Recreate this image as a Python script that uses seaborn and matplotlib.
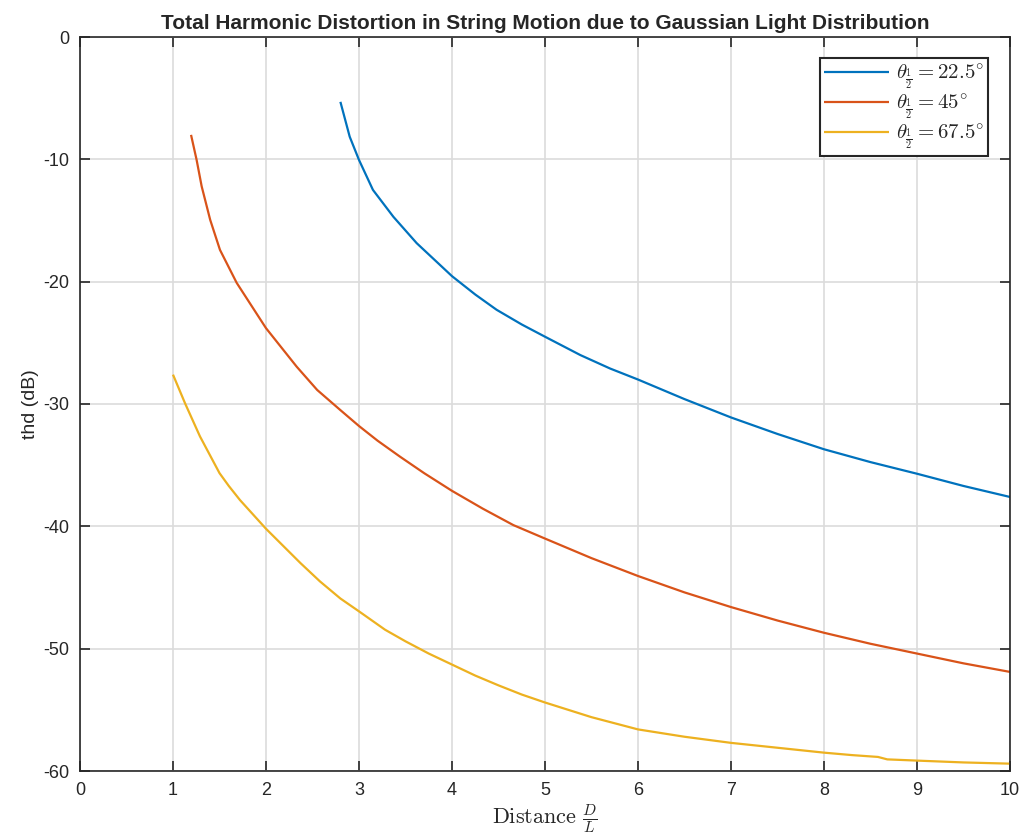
import numpy as np
import pandas as pd
import matplotlib
matplotlib.use("Agg")
import matplotlib.pyplot as plt
import seaborn as sns

# ---- data ----
x_22 = [2.8, 2.9, 3.0, 3.15, 3.37, 3.62, 4.0, 4.25, 4.48, 4.75, 5.0, 5.38, 5.7, 6.0, 6.5, 7.0, 7.5, 8.0, 8.5, 9.0, 9.5, 10.0]
y_22 = [-5.3, -8.15, -10.05, -12.5, -14.7, -16.85, -19.55, -21.05, -22.3, -23.5, -24.5, -26.0, -27.1, -28.0, -29.6, -31.1, -32.45, -33.7, -34.75, -35.7, -36.7, -37.6]

x_45 = [1.194, 1.254, 1.308, 1.4, 1.505, 1.685, 2.0, 2.33, 2.55, 2.8, 3.0, 3.2, 3.44, 3.7, 4.0, 4.33, 4.66, 5.0, 5.5, 6.0, 6.5, 7.0, 7.5, 8.0, 8.5, 9.0, 9.5, 10.0]
y_45 = [-8.0, -10.05, -12.2, -14.95, -17.4, -20.1, -23.8, -26.95, -28.85, -30.5, -31.8, -33.0, -34.3, -35.65, -37.1, -38.55, -39.9, -41.0, -42.6, -44.06, -45.4, -46.6, -47.7, -48.7, -49.6, -50.4, -51.2, -51.9]

x_67 = [1.0, 1.13, 1.29, 1.5, 1.6, 1.72, 2.0, 2.37, 2.58, 2.8, 3.0, 3.28, 3.5, 3.75, 4.0, 4.25, 4.5, 4.75, 5.0, 5.5, 6.0, 6.5, 7.0, 7.5, 8.0, 8.3, 8.58, 8.68, 9.0, 9.5, 10.0]
y_67 = [-27.6, -29.95, -32.65, -35.65, -36.7, -37.85, -40.2, -43.0, -44.5, -45.9, -46.95, -48.45, -49.4, -50.4, -51.3, -52.2, -53.0, -53.75, -54.4, -55.6, -56.6, -57.2, -57.7, -58.1, -58.5, -58.7, -58.85, -59.05, -59.15, -59.3, -59.4]

labels = [r"$\theta_{\frac{1}{2}} = 22.5^{\circ}$",
          r"$\theta_{\frac{1}{2}} = 45^{\circ}$",
          r"$\theta_{\frac{1}{2}} = 67.5^{\circ}$"]
colors = ["#0072BD", "#D95319", "#EDB120"]

df = pd.concat([
    pd.DataFrame({"x": x_22, "y": y_22, "series": labels[0]}),
    pd.DataFrame({"x": x_45, "y": y_45, "series": labels[1]}),
    pd.DataFrame({"x": x_67, "y": y_67, "series": labels[2]}),
], ignore_index=True)

sns.set_theme(style="whitegrid")
plt.rcParams["font.family"] = ["Liberation Sans", "DejaVu Sans"]
plt.rcParams["mathtext.fontset"] = "cm"
plt.rcParams["axes.unicode_minus"] = False

fig = plt.figure(figsize=(10.24, 8.4), dpi=100)
ax = fig.add_axes([80/1024, 1-771/840, 930/1024, 734/840])

sns.lineplot(data=df, x="x", y="y", hue="series", palette=colors,
             hue_order=labels, sort=False, estimator=None, linewidth=1.6, ax=ax)
for ln in ax.get_lines():
    ln.set_solid_joinstyle("round")
    ln.set_solid_capstyle("butt")

ax.set_xlim(0, 10)
ax.set_ylim(-60, 0)
ax.set_xticks(np.arange(0, 11, 1))
ax.set_yticks(np.arange(-60, 1, 10))
ax.set_facecolor("white")
ax.grid(True, color="#dcdcdc", linewidth=1.2)
for s in ax.spines.values():
    s.set_visible(True)
    s.set_color("#262626")
    s.set_linewidth(1.2)
ax.tick_params(direction="in", length=7, width=1.2, colors="#262626",
               top=True, right=True, bottom=True, left=True, labelsize=13,
               labelcolor="#262626", pad=8)

ax.set_title("Total Harmonic Distortion in String Motion due to Gaussian Light Distribution",
             fontsize=15, fontweight="bold", pad=6)
ax.set_ylabel("thd (dB)", fontsize=14, labelpad=3)
ax.set_xlabel(r"$\mathrm{Distance}\ \frac{D}{L}$", fontsize=16, labelpad=2)

leg = ax.legend(loc="upper right", bbox_to_anchor=(0.9765, 0.971), fontsize=15,
                frameon=True, fancybox=False, framealpha=1, edgecolor="#262626",
                handlelength=3.1, handletextpad=0.35, borderpad=0.2,
                labelspacing=0.08, borderaxespad=0.0)
leg.get_frame().set_linewidth(1.5)
leg.set_title(None)

fig.savefig("out.png", dpi=100, facecolor="white")
